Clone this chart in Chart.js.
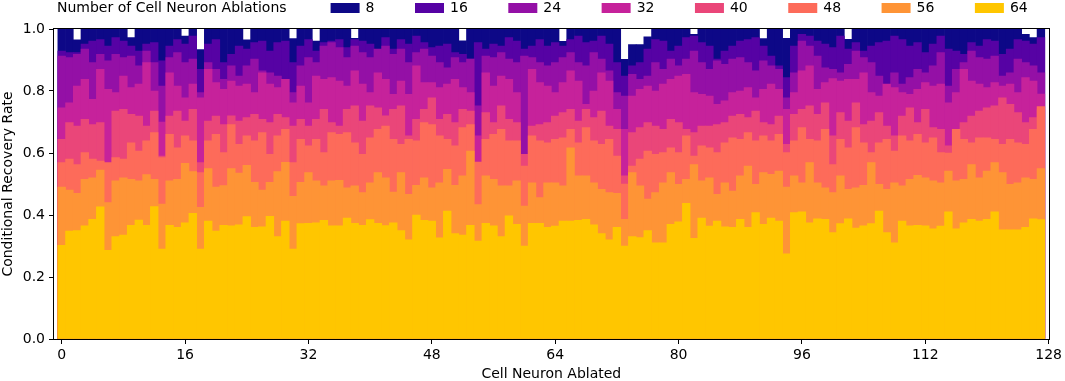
<!DOCTYPE html>
<html lang="en">
<head>
  <meta charset="UTF-8">
  <title>Conditional Recovery Rate</title>
  <script src="https://cdn.jsdelivr.net/npm/chart.js"></script>
  <style>
    html, body { margin: 0; padding: 0; background: #fff; }
    canvas { display: block; }
  </style>
</head>
<body>
  <canvas id="recoveryChart" width="1065" height="381"></canvas>

  <script>
    const legendTitle = 'Number of Cell Neuron Ablations';
    const ablations = ['8', '16', '24', '32', '40', '48', '56', '64'];
    const neurons = Array.from({ length: 128 }, (_, i) => i);
    const xTicks = [0, 16, 32, 48, 64, 80, 96, 112, 128];
    const yTicks = [0, 0.2, 0.4, 0.6, 0.8, 1.0];

    // recovery rate per ablated neuron, one array per ablation count
    const rate8 = [
      1,1,0.965,1,1,1,1,1,1,0.972,1,1,1,1,1,1,0.977,1,0.934,1,1,1,1,1,0.965,1,1,1,1,1,0.969,1,
      1,0.961,1,1,1,1,0.97,1,1,1,1,1,1,1,1,1,1,1,1,1,0.962,1,1,1,1,1,1,1,1,1,1,1,
      1,0.96,1,1,1,1,1,1,1,0.902,0.95,0.95,0.975,1,1,1,1,1,0.983,1,1,1,1,1,1,1,1,0.969,1,1,0.97,1,
      1,1,1,1,1,1,0.967,1,1,1,1,1,1,1,1,1,1,1,1,1,1,1,1,1,1,1,1,1,1,0.983,0.972,1
    ];
    const rate16 = [
      0.929,0.924,0.924,0.951,0.961,0.966,0.945,0.972,0.961,0.945,0.929,0.951,0.956,0.897,0.945,0.966,0.951,0.977,0.870,0.951,0.966,0.892,0.918,0.945,0.935,0.956,0.961,0.929,0.956,0.961,0.892,0.945,
      0.966,0.929,0.956,0.961,0.966,0.940,0.966,0.961,0.951,0.924,0.972,0.935,0.966,0.951,0.977,0.956,0.940,0.945,0.951,0.924,0.918,0.903,0.956,0.935,0.951,0.945,0.972,0.961,0.935,0.945,0.966,0.945,
      0.956,0.945,0.966,0.977,0.956,0.961,0.977,0.951,0.892,0.848,0.881,0.892,0.935,0.966,0.961,0.929,0.945,0.972,0.977,0.956,0.945,0.903,0.929,0.945,0.961,0.966,0.972,0.945,0.913,0.881,0.843,0.945,
      0.983,0.977,0.961,0.951,0.940,0.977,0.935,0.956,0.929,0.945,0.956,0.961,0.977,0.966,0.945,0.956,0.924,0.951,0.977,0.935,0.929,0.918,0.956,0.945,0.966,0.961,0.918,0.935,0.966,0.961,0.951,0.972
    ];
    const rate24 = [
      0.913,0.908,0.918,0.935,0.892,0.918,0.897,0.918,0.908,0.913,0.881,0.929,0.892,0.816,0.908,0.924,0.892,0.903,0.795,0.892,0.870,0.838,0.881,0.848,0.881,0.903,0.865,0.859,0.848,0.838,0.795,0.881,
      0.908,0.892,0.945,0.956,0.940,0.908,0.945,0.924,0.908,0.935,0.945,0.918,0.935,0.892,0.924,0.935,0.913,0.892,0.875,0.908,0.892,0.903,0.752,0.913,0.908,0.924,0.903,0.892,0.913,0.908,0.892,0.881,
      0.892,0.908,0.924,0.892,0.881,0.924,0.903,0.865,0.795,0.784,0.854,0.838,0.848,0.892,0.870,0.903,0.881,0.903,0.929,0.892,0.870,0.897,0.886,0.903,0.908,0.892,0.865,0.897,0.881,0.870,0.778,0.859,
      0.961,0.945,0.913,0.875,0.870,0.859,0.886,0.929,0.908,0.892,0.848,0.816,0.859,0.822,0.843,0.870,0.859,0.881,0.924,0.816,0.870,0.892,0.929,0.908,0.903,0.913,0.848,0.859,0.903,0.892,0.881,0.859
    ];
    const rate32 = [
      0.746,0.762,0.816,0.838,0.773,0.870,0.805,0.795,0.848,0.811,0.822,0.892,0.800,0.700,0.859,0.816,0.778,0.822,0.778,0.870,0.827,0.805,0.832,0.816,0.822,0.795,0.859,0.822,0.811,0.838,0.762,0.816,
      0.762,0.848,0.838,0.843,0.832,0.816,0.865,0.822,0.795,0.859,0.838,0.789,0.832,0.789,0.881,0.827,0.827,0.811,0.822,0.838,0.811,0.795,0.655,0.859,0.816,0.848,0.838,0.795,0.580,0.870,0.827,0.816,
      0.795,0.827,0.865,0.832,0.757,0.800,0.859,0.832,0.741,0.676,0.784,0.805,0.816,0.800,0.822,0.838,0.848,0.854,0.795,0.789,0.784,0.757,0.768,0.795,0.800,0.811,0.778,0.805,0.822,0.805,0.741,0.795,
      0.865,0.881,0.805,0.827,0.840,0.832,0.838,0.838,0.859,0.795,0.784,0.822,0.811,0.795,0.789,0.805,0.827,0.816,0.822,0.762,0.795,0.870,0.832,0.822,0.811,0.827,0.816,0.822,0.795,0.843,0.832,0.790
    ];
    const rate40 = [
      0.644,0.698,0.687,0.709,0.692,0.698,0.560,0.735,0.741,0.725,0.719,0.687,0.735,0.590,0.719,0.735,0.703,0.741,0.569,0.703,0.719,0.692,0.720,0.703,0.714,0.725,0.709,0.698,0.725,0.714,0.687,0.709,
      0.687,0.709,0.741,0.698,0.687,0.741,0.752,0.703,0.752,0.746,0.720,0.741,0.752,0.655,0.709,0.741,0.778,0.709,0.725,0.698,0.741,0.735,0.560,0.730,0.698,0.752,0.709,0.698,0.596,0.687,0.692,0.698,
      0.719,0.730,0.741,0.703,0.741,0.714,0.735,0.687,0.676,0.526,0.666,0.682,0.698,0.687,0.676,0.709,0.698,0.676,0.666,0.687,0.687,0.692,0.698,0.719,0.725,0.714,0.735,0.698,0.692,0.719,0.628,0.725,
      0.741,0.752,0.725,0.762,0.655,0.730,0.703,0.762,0.692,0.703,0.730,0.687,0.655,0.719,0.746,0.698,0.741,0.682,0.676,0.623,0.666,0.698,0.719,0.735,0.746,0.752,0.778,0.757,0.730,0.698,0.714,0.740
    ];
    const rate48 = [
      0.569,0.580,0.563,0.601,0.580,0.574,0.569,0.585,0.580,0.633,0.606,0.639,0.666,0.585,0.660,0.617,0.655,0.639,0.537,0.639,0.660,0.601,0.692,0.628,0.655,0.639,0.666,0.596,0.655,0.676,0.569,0.644,
      0.623,0.644,0.601,0.666,0.660,0.666,0.633,0.596,0.649,0.676,0.687,0.644,0.628,0.644,0.639,0.698,0.692,0.655,0.644,0.623,0.682,0.692,0.571,0.644,0.660,0.676,0.639,0.639,0.558,0.655,0.639,0.633,
      0.644,0.649,0.676,0.633,0.682,0.639,0.628,0.644,0.590,0.500,0.558,0.580,0.606,0.596,0.601,0.617,0.601,0.655,0.590,0.623,0.617,0.601,0.633,0.649,0.644,0.666,0.639,0.655,0.639,0.660,0.601,0.639,
      0.682,0.644,0.639,0.676,0.563,0.644,0.617,0.682,0.633,0.601,0.633,0.644,0.606,0.655,0.639,0.660,0.633,0.649,0.601,0.600,0.676,0.644,0.633,0.649,0.649,0.644,0.628,0.644,0.633,0.628,0.676,0.750
    ];
    const rate56 = [
      0.490,0.480,0.470,0.515,0.520,0.545,0.440,0.510,0.520,0.515,0.510,0.530,0.515,0.435,0.510,0.515,0.567,0.540,0.425,0.550,0.490,0.495,0.550,0.535,0.560,0.505,0.480,0.505,0.540,0.570,0.460,0.505,
      0.537,0.510,0.494,0.510,0.512,0.488,0.494,0.472,0.504,0.537,0.520,0.474,0.537,0.467,0.496,0.520,0.488,0.504,0.547,0.496,0.526,0.606,0.434,0.526,0.515,0.494,0.494,0.510,0.429,0.504,0.456,0.504,
      0.504,0.494,0.617,0.526,0.526,0.504,0.483,0.472,0.470,0.386,0.537,0.494,0.451,0.472,0.504,0.537,0.499,0.515,0.563,0.510,0.520,0.467,0.504,0.477,0.526,0.558,0.499,0.537,0.531,0.542,0.490,0.526,
      0.504,0.569,0.504,0.488,0.472,0.526,0.483,0.488,0.496,0.569,0.499,0.483,0.504,0.494,0.515,0.528,0.520,0.510,0.504,0.542,0.510,0.515,0.563,0.520,0.542,0.569,0.537,0.499,0.504,0.520,0.515,0.550
    ];
    const rate64 = [
      0.302,0.348,0.350,0.365,0.386,0.426,0.286,0.330,0.335,0.367,0.384,0.367,0.427,0.290,0.367,0.360,0.375,0.405,0.290,0.380,0.348,0.367,0.365,0.368,0.395,0.360,0.362,0.396,0.330,0.380,0.290,0.372,
      0.373,0.375,0.383,0.365,0.365,0.390,0.373,0.367,0.385,0.373,0.366,0.375,0.350,0.320,0.400,0.383,0.380,0.326,0.413,0.340,0.335,0.367,0.316,0.373,0.365,0.330,0.397,0.370,0.300,0.373,0.373,0.360,
      0.364,0.380,0.380,0.383,0.386,0.368,0.340,0.320,0.360,0.300,0.330,0.327,0.350,0.310,0.310,0.370,0.378,0.438,0.325,0.390,0.364,0.380,0.362,0.360,0.386,0.360,0.408,0.370,0.390,0.380,0.275,0.408,
      0.410,0.375,0.388,0.386,0.343,0.372,0.388,0.358,0.365,0.372,0.413,0.343,0.310,0.380,0.365,0.367,0.365,0.355,0.364,0.410,0.355,0.375,0.386,0.380,0.386,0.410,0.352,0.352,0.352,0.360,0.388,0.385
    ];

    const rates = [rate8, rate16, rate24, rate32, rate40, rate48, rate56, rate64];
    const colors = ['#0d0887', '#5602a4', '#9410a6', '#c6229b', '#ea4679', '#fd6b5a', '#fe9436', '#ffc600'];

    Chart.defaults.font.family = '"DejaVu Sans", sans-serif';
    Chart.defaults.font.size = 14;
    Chart.defaults.color = '#000';

    // legend drawn in one row, title first, like the original figure
    const legendRow = {
      id: 'legendRow',
      afterDraw(chart) {
        const ctx = chart.ctx;
        const y = 8.5;
        ctx.save();
        ctx.font = '14px "DejaVu Sans", sans-serif';
        ctx.textBaseline = 'middle';
        ctx.textAlign = 'left';
        ctx.fillStyle = '#000';
        let x = chart.chartArea.left + 3;
        ctx.fillText(legendTitle, x, y);
        x += ctx.measureText(legendTitle).width + 44;
        chart.data.datasets.forEach(ds => {
          ctx.fillStyle = ds.backgroundColor;
          ctx.fillRect(x, 3, 29, 10);
          x += 35;
          ctx.fillStyle = '#000';
          ctx.fillText(ds.label, x, y);
          x += ctx.measureText(ds.label).width + 40.5;
        });
        ctx.restore();
      }
    };

    // box around the plot area
    const frame = {
      id: 'frame',
      afterDatasetsDraw(chart) {
        const { left, top, right, bottom } = chart.chartArea;
        const ctx = chart.ctx;
        ctx.save();
        ctx.strokeStyle = '#000';
        ctx.lineWidth = 1;
        ctx.strokeRect(Math.round(left) - 0.5, Math.round(top) - 0.5,
          Math.round(right) - Math.round(left) + 1, Math.round(bottom) - Math.round(top) + 1);
        ctx.restore();
      }
    };

    const ctx = document.getElementById('recoveryChart').getContext('2d');
    new Chart(ctx, {
      type: 'bar',
      data: {
        labels: neurons,
        datasets: rates.map((data, i) => ({
          label: ablations[i],
          data: data,
          backgroundColor: colors[i],
          borderWidth: 0,
          grouped: false,
          barPercentage: 1,
          categoryPercentage: 1,
          order: rates.length - i
        }))
      },
      options: {
        responsive: false,
        animation: false,
        layout: { padding: { top: 29, right: 11, bottom: 0, left: 0 } },
        plugins: {
          legend: { display: false },
          tooltip: { enabled: true }
        },
        scales: {
          x: {
            type: 'linear',
            min: -1,
            max: 128,
            offset: false,
            afterBuildTicks: s => { s.ticks = xTicks.map(v => ({ value: v })); },
            afterFit: s => { s.height = 42; },
            ticks: { padding: 3, maxRotation: 0, autoSkip: false },
            grid: { drawOnChartArea: false, color: '#000', tickLength: 5, offset: false },
            border: { display: false },
            title: { display: true, text: 'Cell Neuron Ablated', padding: 0, font: { lineHeight: 1 } }
          },
          y: {
            min: 0,
            max: 1,
            afterBuildTicks: s => { s.ticks = yTicks.map(v => ({ value: v })); },
            afterFit: s => { s.width = 54; },
            ticks: { padding: 4, callback: v => v.toFixed(1) },
            grid: { drawOnChartArea: false, color: '#000', tickLength: 5 },
            border: { display: false },
            title: { display: true, text: 'Conditional Recovery Rate', padding: { top: 1, bottom: 0 }, font: { lineHeight: 1 } }
          }
        }
      },
      plugins: [legendRow, frame]
    });
  </script>
</body>
</html>
